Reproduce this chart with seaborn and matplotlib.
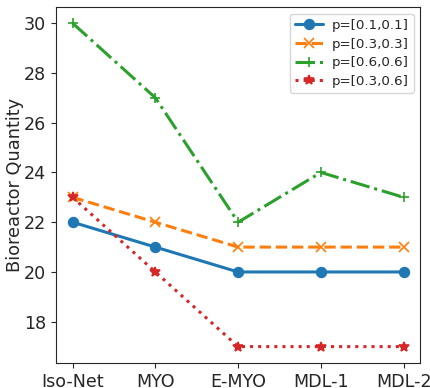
import matplotlib
matplotlib.use("Agg")
import matplotlib.pyplot as plt
import seaborn as sns
import pandas as pd

methods = ["Iso-Net", "MYO", "E-MYO", "MDL-1", "MDL-2"]
p_01_01 = [22, 21, 20, 20, 20]
p_03_03 = [23, 22, 21, 21, 21]
p_06_06 = [30, 27, 22, 24, 23]
p_03_06 = [23, 20, 17, 17, 17]

series = [
    ("p=[0.1,0.1]", p_01_01, "o", "-", "#1f77b4"),
    ("p=[0.3,0.3]", p_03_03, "x", "--", "#ff7f0e"),
    ("p=[0.6,0.6]", p_06_06, "+", "-.", "#2ca02c"),
    ("p=[0.3,0.6]", p_03_06, "*", ":", "#d62728"),
]

sns.set_style("ticks")
plt.rcParams["font.family"] = ["DejaVu Sans"]

fig, ax = plt.subplots(figsize=(4.31, 3.88), dpi=100)
for label, vals, marker, ls, color in series:
    df = pd.DataFrame({"method": methods, "value": vals})
    sns.lineplot(data=df, x="method", y="value", ax=ax, label=label,
                 marker=marker, linestyle=ls, color=color, linewidth=2.2,
                 markersize=7, markeredgecolor=color, markeredgewidth=1.2,
                 sort=False)

ax.set_xlabel("")
ax.set_ylabel("Bioreactor Quantity", fontsize=12.8, labelpad=0)
ax.tick_params(axis="both", labelsize=12.6)
ax.set_yticks([18, 20, 22, 24, 26, 28, 30])
ax.legend(loc="upper right", fontsize=9.6, labelspacing=0.42,
          handlelength=2.1, handletextpad=0.6)
fig.subplots_adjust(left=0.13, right=0.975, top=0.982, bottom=0.065)
fig.savefig("out.png", dpi=100)
